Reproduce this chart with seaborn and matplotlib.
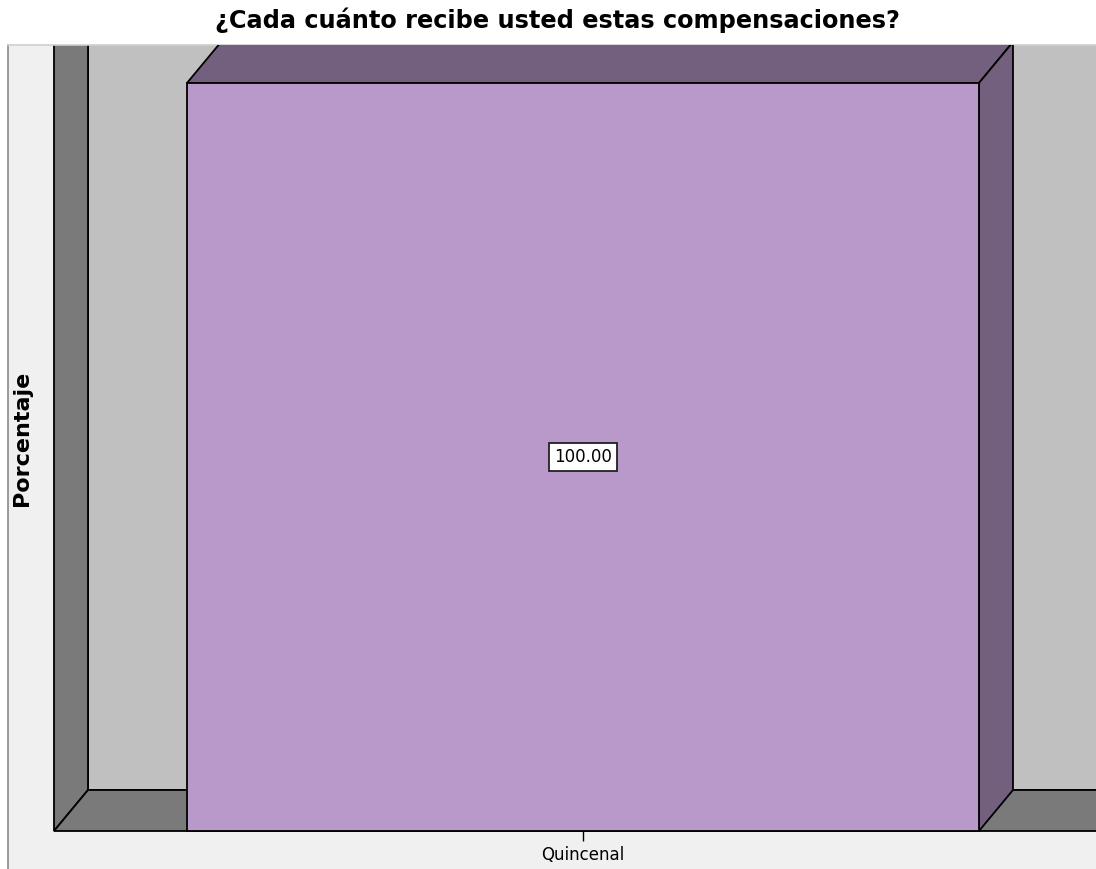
import matplotlib
matplotlib.use("Agg")
import matplotlib.pyplot as plt
from matplotlib.patches import Polygon
import seaborn as sns

# Survey answer and its share of respondents
categories = ["Quincenal"]
percentages = [100.00]
title_text = "¿Cada cuánto recibe usted estas compensaciones?"
y_label = "Porcentaje"

sns.set_style("white")
plt.rcParams["font.family"] = ["DejaVu Sans"]

W, H, DPI = 1096, 869, 100
fig = plt.figure(figsize=(W / DPI, H / DPI), dpi=DPI, facecolor="white")

# Frame of the chart area (pixels): left 8, top 45, right/bottom to the edge
FRAME_L, FRAME_T = 8, 45
ax = fig.add_axes([FRAME_L / W, 0, (W - FRAME_L) / W, (H - FRAME_T) / H])

PANEL = "#f0f0f0"
WALL_DARK = "#7a7a7a"
WALL_BACK = "#c0c0c0"
BAR_FACE = "#b899c9"
BAR_SHADE = "#73607e"
EDGE_LW = 1.3

ax.set_facecolor(PANEL)

sns.barplot(x=categories, y=percentages, color=BAR_FACE, saturation=1,
            width=0.8, edgecolor="black", linewidth=EDGE_LW,
            errorbar=None, ax=ax, zorder=5)

XLIM = (-0.5808, 0.5182)
YLIM = (-5.08, 105.08)
ax.set_xlim(*XLIM)
ax.set_ylim(*YLIM)

# Depth of the pseudo-3D room, given in pixels and converted to data units
DEPTH_PX_X, DEPTH_PX_Y = 34, 41
ax_w_px = W - FRAME_L
ax_h_px = H - FRAME_T
ddx = DEPTH_PX_X / (ax_w_px / (XLIM[1] - XLIM[0]))
ddy = DEPTH_PX_Y / (ax_h_px / (YLIM[1] - YLIM[0]))

far_x = XLIM[1] + 1
far_y = YLIM[1] + 20
room_left = -0.5

poly_kw = dict(edgecolor="black", linewidth=EDGE_LW, joinstyle="miter")

# back wall
ax.add_patch(Polygon([(room_left, ddy), (far_x, ddy), (far_x, far_y), (room_left, far_y)],
                     closed=True, facecolor=WALL_BACK, zorder=1, **poly_kw))
# left wall
ax.add_patch(Polygon([(room_left - ddx, 0), (room_left, ddy), (room_left, far_y),
                      (room_left - ddx, far_y)],
                     closed=True, facecolor=WALL_DARK, zorder=2, **poly_kw))
# floor
ax.add_patch(Polygon([(room_left - ddx, 0), (room_left, ddy), (far_x, ddy), (far_x, 0)],
                     closed=True, facecolor=WALL_DARK, zorder=2, **poly_kw))

# Extrude each bar: top and right faces in the darker shade, plus value label
for bar in ax.patches[:len(categories)]:
    x0 = bar.get_x()
    x1 = x0 + bar.get_width()
    h = bar.get_height()
    ax.add_patch(Polygon([(x0, h), (x1, h), (x1 + ddx, h + ddy), (x0 + ddx, h + ddy)],
                         closed=True, facecolor=BAR_SHADE, zorder=4, **poly_kw))
    ax.add_patch(Polygon([(x1, 0), (x1, h), (x1 + ddx, h + ddy), (x1 + ddx, ddy)],
                         closed=True, facecolor=BAR_SHADE, zorder=4, **poly_kw))
    ax.text(x0 + bar.get_width() / 2, h / 2, f"{h:.2f}", ha="center", va="center",
            fontsize=12, color="black", zorder=10,
            bbox=dict(boxstyle="square,pad=0.32", facecolor="white",
                      edgecolor="#222222", linewidth=1.3))

# Axes: category tick sits on the floor's front edge
ax.spines["bottom"].set_position(("data", 0))
ax.spines["bottom"].set_color("none")
ax.spines["right"].set_visible(False)
ax.spines["left"].set_color("#8a8a8a")
ax.spines["left"].set_linewidth(1.2)
ax.spines["top"].set_color("#cfcfcf")
ax.spines["top"].set_linewidth(1.2)

ax.tick_params(axis="x", bottom=True, length=7.5, width=1.0, color="black",
               direction="out", pad=3, labelsize=12, labelcolor="black")
ax.set_yticks([])
ax.set_xlabel("")

ax.set_ylabel(y_label, fontsize=16, fontweight="bold", color="black")
ax.yaxis.set_label_coords((22 - FRAME_L) / ax_w_px, (H - 438.5) / ax_h_px)
ax.yaxis.label.set_verticalalignment("center")
ax.yaxis.label.set_horizontalalignment("center")

ax.set_title(title_text, fontsize=17.3, fontweight="bold", color="black",
             pad=12, x=(557 - FRAME_L) / ax_w_px)

fig.savefig("out.png", dpi=DPI)
